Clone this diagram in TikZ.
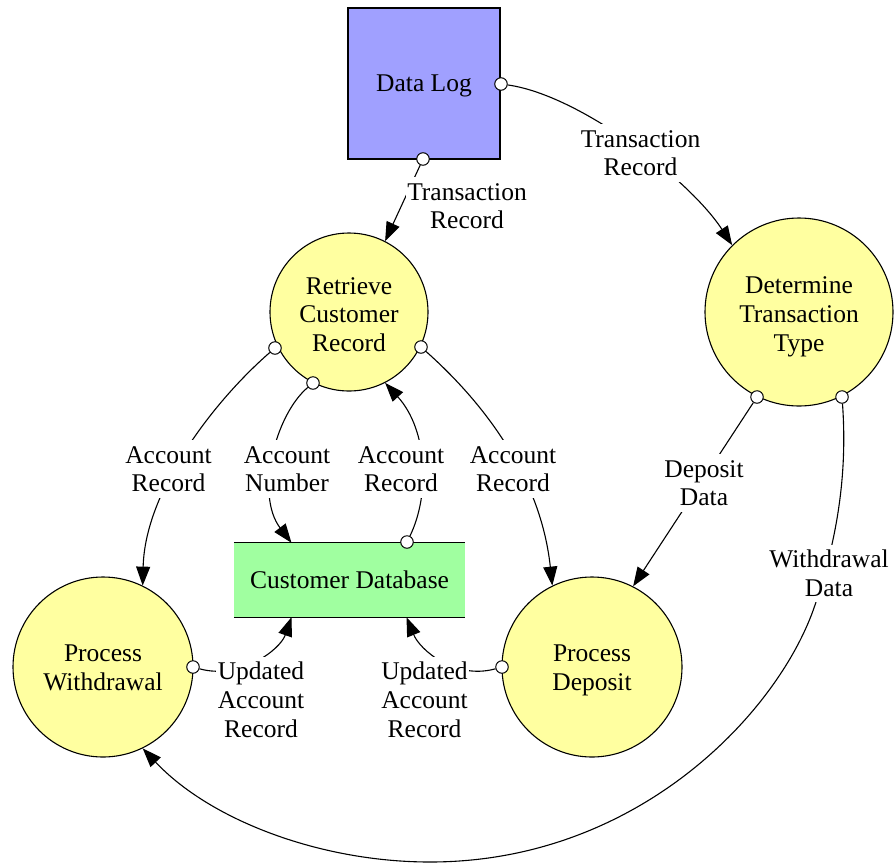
\documentclass[tikz,border=0pt]{standalone}
\usepackage{fontspec}
\setmainfont{Liberation Serif}
\usetikzlibrary{arrows.meta,calc}
\definecolor{logblue}{RGB}{160,160,255}
\definecolor{procyellow}{RGB}{255,255,160}
\definecolor{dbgreen}{RGB}{160,255,160}
\tikzset{
  txt/.style={font=\fontsize{25.5}{28.6}\selectfont, align=center, text depth=6pt},
  one/.style={text height=22.8pt},
  two/.style={text height=51.4pt},
  three/.style={text height=80pt},
  proc/.style={txt, circle, draw=black, line width=1.1pt, fill=procyellow, inner sep=0pt},
  tailc/.style={circle, draw=black, fill=white, line width=1pt, minimum size=12.5pt, inner sep=0pt},
  flow/.style={draw=black, line width=1.1pt, -{Triangle[length=19pt,width=14pt]}},
  lbl/.style={txt, fill=white, inner xsep=1.5pt, inner ysep=0pt}
}
\begin{document}
\begin{tikzpicture}[x=1pt,y=-1pt]
\useasboundingbox (0,0) rectangle (894,863);
% main nodes
\node[txt, one, draw=black, line width=1.1pt, fill=logblue, minimum width=152pt, minimum height=151pt, inner sep=0pt] (dl) at (424,83.5) {Data Log};
\node[proc, text height=84.6pt, minimum size=158pt] (ret) at (349,312) {Retrieve\\Customer\\Record};
\node[proc, text height=84pt, minimum size=188pt] (det) at (799,312) {Determine\\Transaction\\Type};
\node[proc, text height=52.4pt, minimum size=180pt] (pw) at (103,667) {Process\\Withdrawal};
\node[proc, text height=52.4pt, minimum size=180pt] (pd) at (592,667) {Process\\Deposit};
\node[txt, text height=23.8pt, fill=dbgreen, minimum width=231pt, minimum height=74pt, inner sep=0pt] (db) at (349.5,580) {Customer Database};
\draw[line width=1.1pt] (db.north west) -- (db.north east);
\draw[line width=1.1pt] (db.south west) -- (db.south east);
% tail circles
\node[tailc] (t1) at (423,159) {};
\node[tailc] (t2) at (501,84) {};
\node[tailc] (t3) at (275,348) {};
\node[tailc] (t4) at (313,383) {};
\node[tailc] (t5) at (407,542) {};
\node[tailc] (t6) at (421,347) {};
\node[tailc] (t7) at (757,397) {};
\node[tailc] (t8) at (842,397) {};
\node[tailc] (t9) at (193,667) {};
\node[tailc] (t10) at (502,667) {};
% edges
\draw[flow] (t1) -- (ret.63);
\draw[flow] (t2) .. controls (580,95) and (690,180) .. (det.135);
\draw[flow] (t3) .. controls (215,400) and (145,490) .. (pw.64);
\draw[flow] (t4) .. controls (275,415) and (255,495) .. ([xshift=-58pt]db.north);
\draw[flow] (t5) .. controls (430,495) and (428,430) .. (ret.-63);
\draw[flow] (t6) .. controls (475,395) and (540,470) .. (pd.116);
\draw[flow] (t7) -- (pd.63);
\draw[flow] (t8) .. controls (848,480) and (835,545) .. (815,605)
  .. controls (780,710) and (640,862) .. (430,862)
  .. controls (320,862) and (210,820) .. (pw.-64);
\draw[flow] (t9) .. controls (240,680) and (280,650) .. ([xshift=-58pt]db.south);
\draw[flow] (t10) .. controls (455,680) and (420,650) .. ([xshift=57pt]db.south);
% labels
\node[lbl, two] (l1) at (467,206) {Transaction\\Record};
\node[lbl, two] (l2) at (640.5,153) {Transaction\\Record};
\node[lbl, two] (l3) at (168.5,469) {Account\\Record};
\node[lbl, two] (l4) at (287,469) {Account\\Number};
\node[lbl, two] (l5) at (401,469) {Account\\Record};
\node[lbl, two] (l6) at (513,469) {Account\\Record};
\node[lbl, two] (l7) at (704,483) {Deposit\\Data};
\node[lbl, two] (l8) at (829,573.5) {Withdrawal\\Data};
\node[lbl, three] (l9) at (261,700) {Updated\\Account\\Record};
\node[lbl, three] (l10) at (424.5,700) {Updated\\Account\\Record};
\end{tikzpicture}
\end{document}
